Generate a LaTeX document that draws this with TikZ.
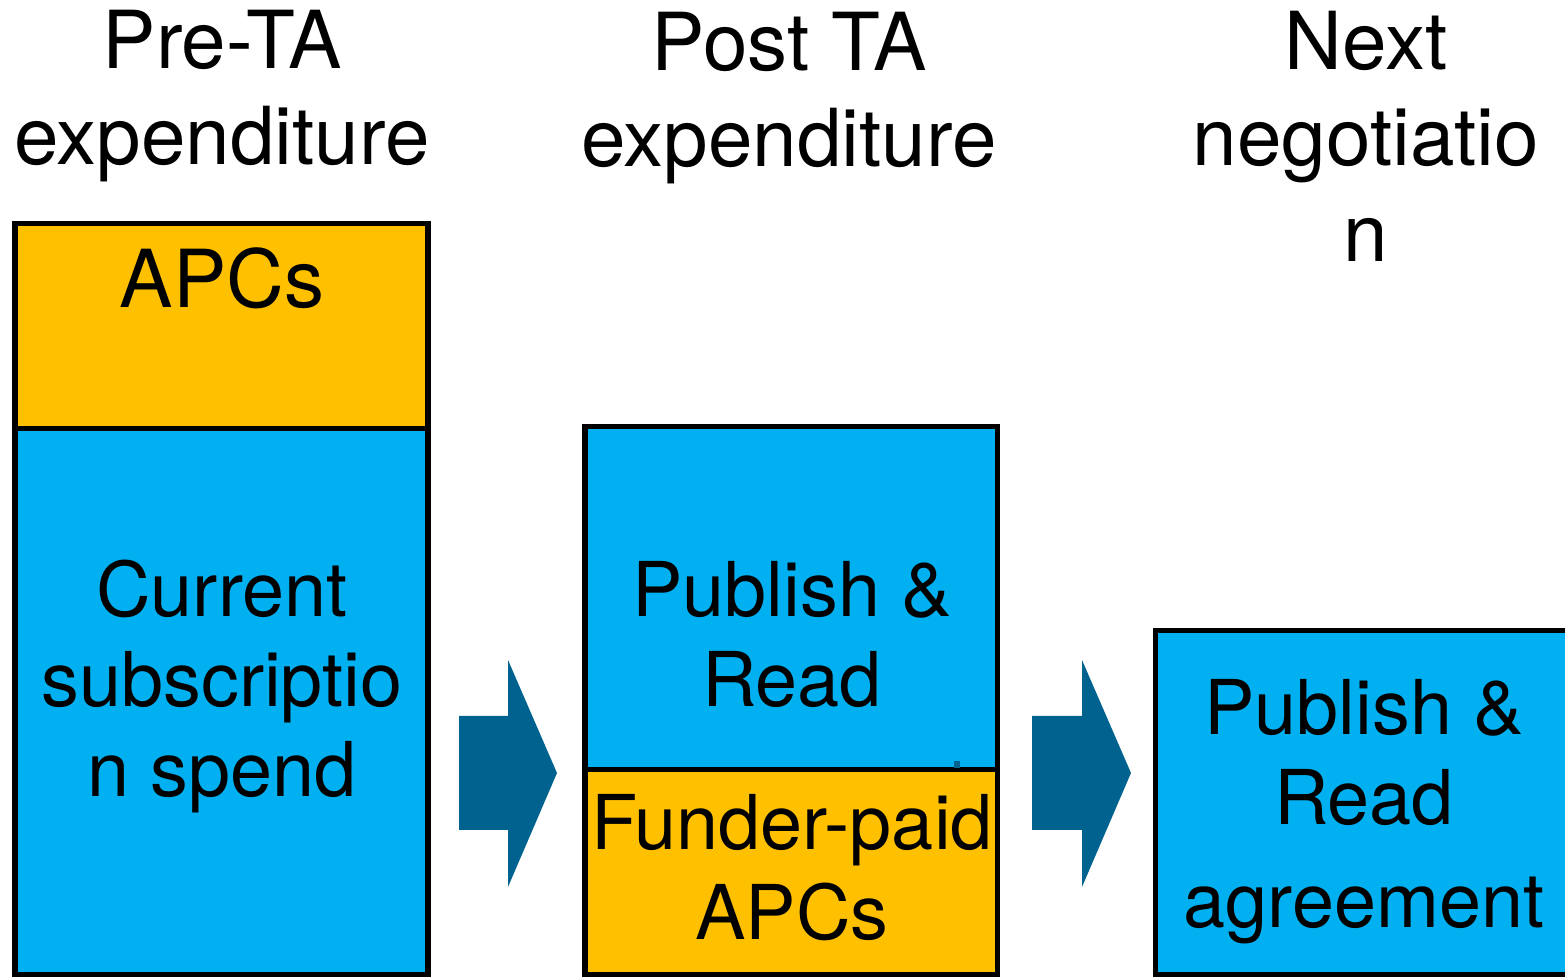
\documentclass[tikz,border=0pt]{standalone}
\usepackage{fontspec}
\setmainfont{TeX Gyre Heros}
\definecolor{subblue}{HTML}{00B0F0}
\definecolor{apcgold}{HTML}{FFC000}
\definecolor{arrowblue}{HTML}{00638F}
\tikzset{>=latex,
  bar/.style={draw=black,line width=0.05cm},
  head/.style={anchor=base,align=center,inner sep=0pt,font=\fontsize{22.76}{27.3}\selectfont},
  boxtext/.style={anchor=base,align=center,inner sep=0pt,font=\fontsize{21.5}{25.6}\selectfont},
  flow/.style={fill=arrowblue}}

\begin{document}
\begin{tikzpicture}[x=0.01cm,y=-0.01cm]
  \path[use as bounding box,clip] (0,0) rectangle (1565,980);

  %% pre-TA column
  \draw[bar,fill=apcgold]  (15,224) rectangle (428,429);
  \draw[bar,fill=subblue]  (15,429) rectangle (428,975);

  %% post TA column
  \draw[bar,fill=subblue]  (585,427) rectangle (997,770);
  \draw[bar,fill=apcgold]  (585,770) rectangle (997,975);
  \fill[arrowblue] (954,761) rectangle (960,768);

  %% next negotiation
  \draw[bar,fill=subblue]  (1155,631) rectangle (1580,975);

  \fill[flow] (459,716) -- (508,716) -- (508,660) -- (557,773) -- (508,887) -- (508,830) -- (459,830) -- cycle;
  \fill[flow] (1032,716) -- (1082,716) -- (1082,660) -- (1131,773) -- (1082,887) -- (1082,830) -- (1032,830) -- cycle;

  %% base anchor sits on the last line
  \node[head] (preta)   at (222,165)  {Pre-TA\\expenditure};
  \node[head] (postta)  at (789,167)  {Post TA\\expenditure};
  \node[head] (nextneg) at (1366,262) {Next\\negotiatio\\n};

  \node[head]    (oldapcs)   at (222,308) {APCs};
  \node[boxtext] (subspend)  at (222,797) {Current\\subscriptio\\n spend};
  \node[boxtext] (pubread)   at (792,707) {Publish \&\\Read};
  \node[boxtext] (funderapc) at (792,940) {Funder-paid\\APCs};
  \node[boxtext] (agreement) at (1364,928) {Publish \&\\Read\\[0.13cm]agreement};

\end{tikzpicture}
\end{document}
